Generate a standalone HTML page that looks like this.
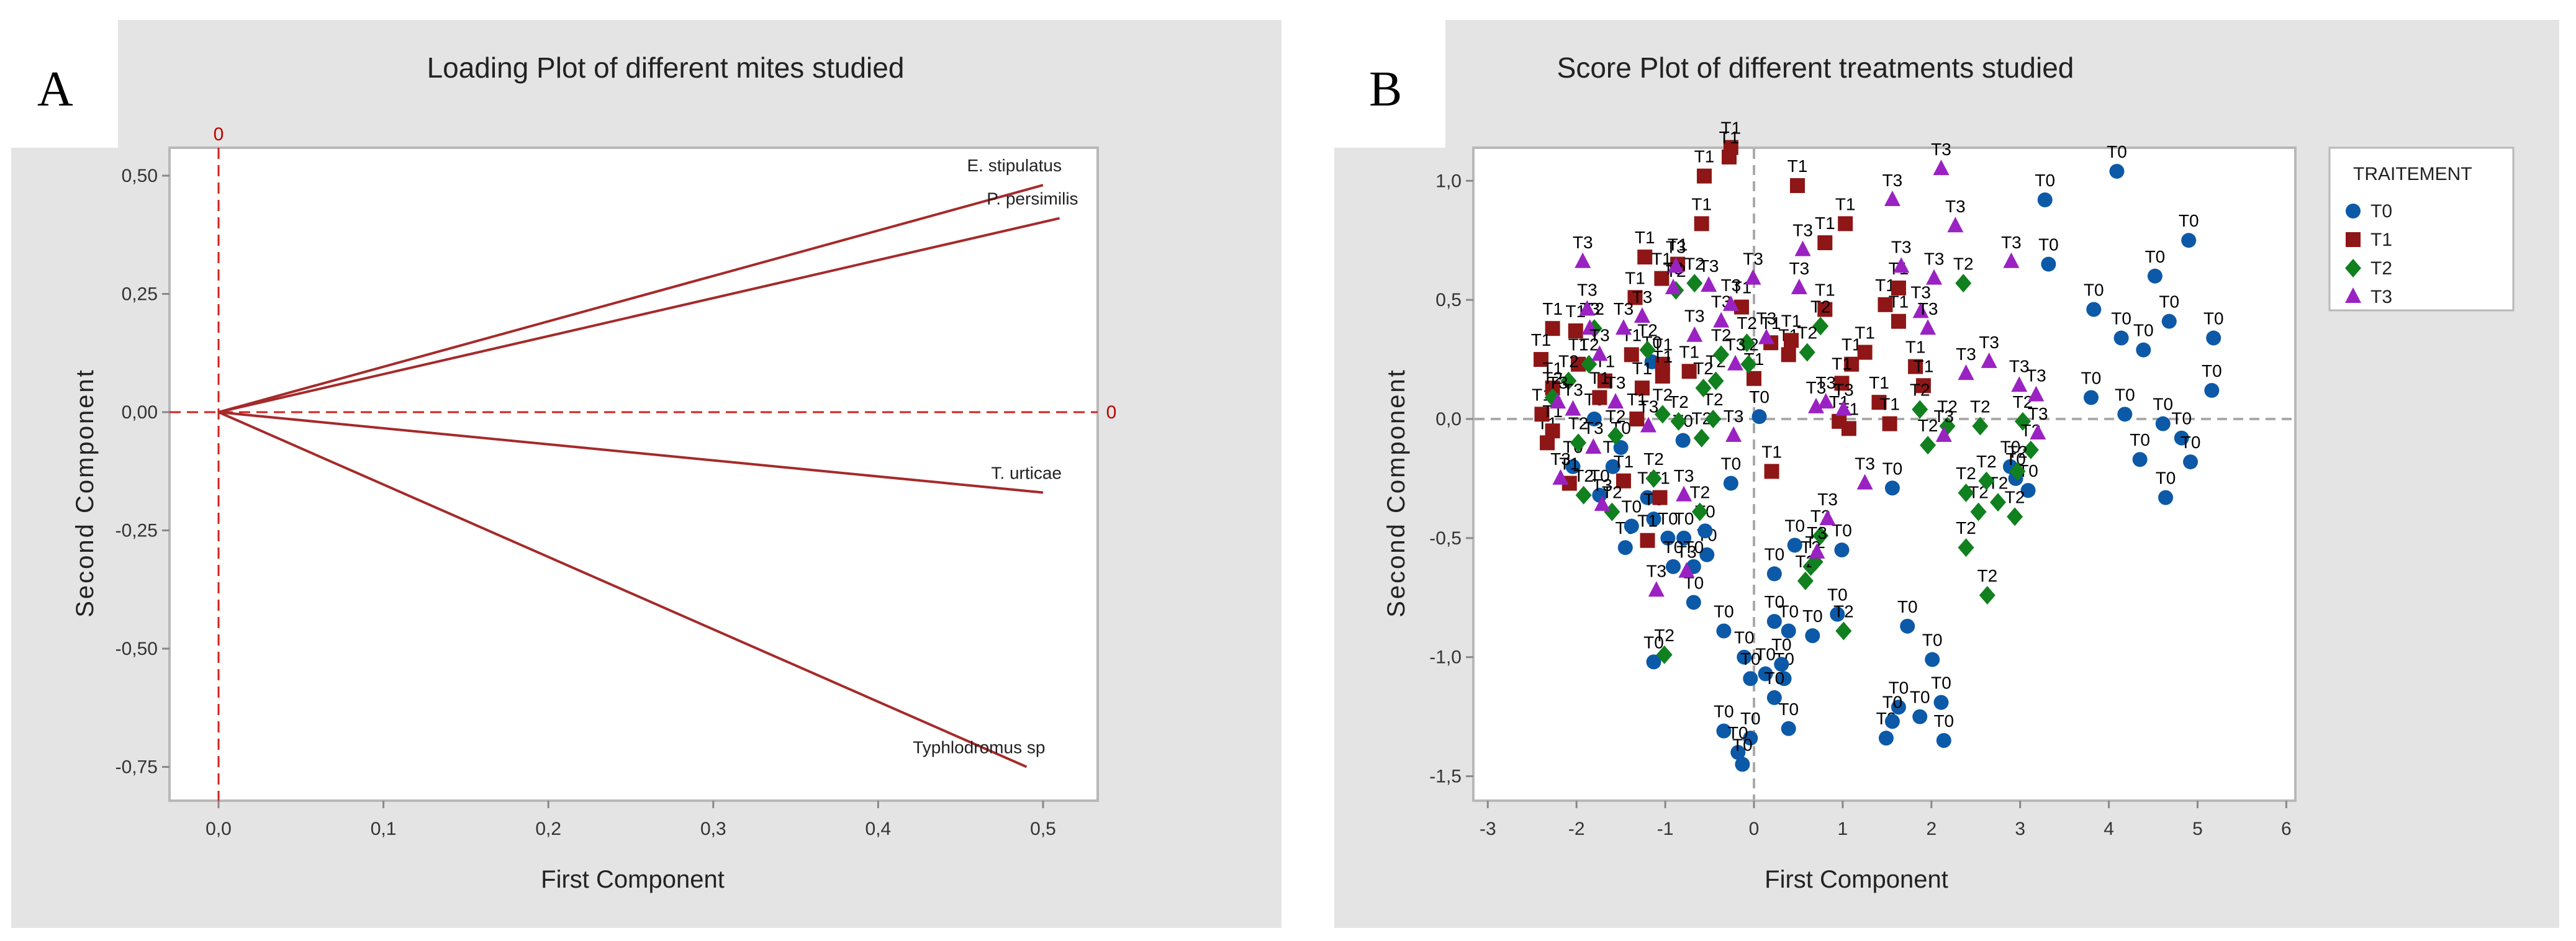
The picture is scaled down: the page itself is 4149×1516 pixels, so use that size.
<!DOCTYPE html>
<html><head><meta charset="utf-8"><style>
html,body{margin:0;padding:0;background:#fff;}
svg{display:block;font-family:"Liberation Sans",sans-serif;}
</style></head><body>
<svg id="fig" width="4149" height="1516" viewBox="0 0 4149 1516" xmlns="http://www.w3.org/2000/svg">
<rect x="0" y="0" width="4149" height="1516" fill="#fff"/>
<g id="panelA">
<rect x="18" y="32" width="2046" height="1463" fill="#e4e4e4"/>
<rect x="18" y="32" width="172" height="206" fill="#fff"/>
<text x="60" y="170" font-family="Liberation Serif,serif" font-size="80">A</text>
<text x="1072" y="125" font-size="46" text-anchor="middle" fill="#222">Loading Plot of different mites studied</text>
<rect x="273" y="238" width="1495" height="1052" fill="#fff" stroke="#b8b8b8" stroke-width="4"/>
<text x="1019" y="1430" font-size="40" text-anchor="middle" fill="#222">First Component</text>
<text transform="translate(150,794) rotate(-90)" font-size="40" text-anchor="middle" fill="#222" letter-spacing="3">Second Component</text>
<g id="axA"></g><g id="linesA"></g>
</g>
<g id="panelB">
<rect x="2149" y="32" width="1973" height="1463" fill="#e4e4e4"/>
<rect x="2149" y="32" width="179" height="206" fill="#fff"/>
<text x="2205" y="170" font-family="Liberation Serif,serif" font-size="80">B</text>
<text x="2924" y="125" font-size="46" text-anchor="middle" fill="#222">Score Plot of different treatments studied</text>
<rect x="2373" y="238" width="1324" height="1052" fill="#fff" stroke="#b8b8b8" stroke-width="4"/>
<text x="2990" y="1430" font-size="40" text-anchor="middle" fill="#222">First Component</text>
<text transform="translate(2262,794) rotate(-90)" font-size="40" text-anchor="middle" fill="#222" letter-spacing="3">Second Component</text>
<g id="axB"></g><g id="pts"></g>
<rect x="3752" y="238" width="296" height="262" fill="#fff" stroke="#b8b8b8" stroke-width="3"/>
<text x="3790" y="290" font-size="30" fill="#222">TRAITEMENT</text>
<g id="leg"></g>
</g>
</svg>
<script>
// Panel A data
const loadNames = ["E. stipulatus","P. persimilis","T. urticae","Typhlodromus sp"];
const loadPC1 = [0.50, 0.51, 0.50, 0.49];
const loadPC2 = [0.48, 0.41, -0.17, -0.75];
const aXTicks = [0,0.1,0.2,0.3,0.4,0.5];
const aXTickLabels = ["0,0","0,1","0,2","0,3","0,4","0,5"];
const aYTicks = [0.5,0.25,0,-0.25,-0.5,-0.75];
const aYTickLabels = ["0,50","0,25","0,00","-0,25","-0,50","-0,75"];
// Panel B data
const groups = ["T0","T1","T2","T3"];
const t0x=[4.09,3.28,4.90,3.32,4.52,3.83,4.68,4.14,5.18,4.39,5.16,3.80,4.18,4.61,4.82,4.35,4.92,4.64,0.06,-0.80,-0.26,1.56,3.09,2.89,2.95,-1.45,-1.20,-1.13,-0.97,-0.79,-0.53,-0.91,-0.68,-0.55,-0.68,0.46,0.99,0.23,-0.34,0.23,0.39,0.66,0.94,-0.11,-0.04,0.13,0.34,0.23,0.31,1.73,2.01,-0.34,-0.04,-0.18,-0.13,0.39,1.49,1.63,1.56,1.87,2.11,2.14,-1.13,-1.74,-1.59,-2.04,-1.80,-1.50,-1.15,-1.38];
const t0y=[1.04,0.92,0.75,0.65,0.60,0.46,0.41,0.34,0.34,0.29,0.12,0.09,0.02,-0.02,-0.08,-0.17,-0.18,-0.33,0.01,-0.09,-0.27,-0.29,-0.30,-0.20,-0.25,-0.54,-0.33,-0.42,-0.50,-0.50,-0.57,-0.62,-0.62,-0.47,-0.77,-0.53,-0.55,-0.65,-0.89,-0.85,-0.89,-0.91,-0.82,-1.00,-1.09,-1.07,-1.09,-1.17,-1.03,-0.87,-1.01,-1.31,-1.34,-1.40,-1.45,-1.30,-1.34,-1.21,-1.27,-1.25,-1.19,-1.35,-1.02,-0.32,-0.20,-0.20,0.00,-0.12,0.24,-0.45];
const t1x=[-0.26,-0.28,-0.56,0.49,-0.59,1.03,0.80,-1.23,-0.86,-1.04,-1.34,0.80,1.48,1.63,1.63,-2.27,-2.01,-2.40,-1.38,-1.03,-0.73,0.39,0.42,0.19,0.00,1.10,1.25,1.82,1.91,1.41,1.53,0.96,1.07,0.20,-1.47,-2.08,-1.20,-1.06,-2.33,-2.39,-2.27,-1.68,-1.26,-1.74,-1.32,-2.27,-1.98,0.99,-0.14,-1.03];
const t1y=[1.14,1.10,1.02,0.98,0.82,0.82,0.74,0.68,0.65,0.59,0.51,0.46,0.48,0.41,0.55,0.38,0.37,0.25,0.27,0.23,0.20,0.27,0.33,0.32,0.17,0.23,0.28,0.22,0.14,0.07,-0.02,-0.01,-0.04,-0.22,-0.26,-0.27,-0.51,-0.33,-0.10,0.02,0.13,0.16,0.13,0.09,0.00,-0.05,0.23,0.15,0.47,0.18];
const t2x=[2.36,0.75,0.60,1.87,2.55,1.96,3.03,3.12,2.97,2.53,2.75,2.94,2.39,2.63,2.39,2.62,1.01,0.64,0.58,0.69,-1.01,-0.59,-0.46,-0.85,-1.03,-1.92,-1.60,-1.13,-0.61,-1.56,-1.98,-2.27,-2.09,-1.86,-1.20,-0.67,-0.88,-0.06,-0.43,-0.37,-0.57,-0.08,0.75,2.18,-1.80];
const t2y=[0.57,0.39,0.28,0.04,-0.03,-0.11,-0.01,-0.13,-0.22,-0.39,-0.35,-0.41,-0.54,-0.74,-0.31,-0.26,-0.89,-0.62,-0.68,-0.60,-0.99,-0.08,0.00,-0.01,0.02,-0.32,-0.39,-0.25,-0.39,-0.07,-0.10,0.09,0.16,0.23,0.29,0.57,0.54,0.23,0.16,0.27,0.13,0.32,-0.49,-0.03,0.38];
const t3x=[2.11,1.56,2.27,2.90,0.55,0.51,-0.01,2.03,1.66,1.88,1.96,2.39,2.65,2.99,3.18,3.20,2.14,0.70,0.81,1.01,1.25,0.83,0.71,-0.23,-0.76,-1.10,-1.71,-2.18,-1.81,-1.19,-1.93,-1.85,-1.88,-1.47,-1.26,-0.91,-0.51,-0.67,-0.37,-0.26,0.14,-0.21,-2.21,-2.04,-0.79,-0.88,-1.74,-1.56];
const t3y=[1.05,0.92,0.81,0.66,0.71,0.55,0.59,0.59,0.64,0.45,0.38,0.19,0.24,0.14,0.10,-0.06,-0.07,0.05,0.07,0.04,-0.27,-0.42,-0.56,-0.07,-0.64,-0.72,-0.36,-0.25,-0.12,-0.03,0.66,0.38,0.46,0.38,0.43,0.55,0.56,0.35,0.41,0.48,0.34,0.23,0.07,0.04,-0.32,0.64,0.27,0.07];
const bXTicks=[-3,-2,-1,0,1,2,3,4,5,6];
const bXTickLabels=["-3","-2","-1","0","1","2","3","4","5","6"];
const bYTicks=[1.0,0.5,0,-0.5,-1.0,-1.5];
const bYTickLabels=["1,0","0,5","0,0","-0,5","-1,0","-1,5"];

const NS="http://www.w3.org/2000/svg";
function mk(parent,tag,attrs){const e=document.createElementNS(NS,tag);for(const k in attrs)e.setAttribute(k,attrs[k]);parent.appendChild(e);return e;}
// Panel A scales
const axA=(v)=>352+v*2656;
const ayA=(v)=>664-v*762;
const gA=document.getElementById('axA');
aXTicks.forEach((t,i)=>{
  const l=mk(gA,'line',{x1:axA(t),x2:axA(t),y1:1290,y2:1302,stroke:'#888','stroke-width':3});
  
  
  const tx=mk(gA,'text',{x:axA(t),y:1345,'font-size':30,'text-anchor':'middle',fill:'#333'});
  tx.textContent=aXTickLabels[i];
  
  
});
aYTicks.forEach((t,i)=>{
  const l=mk(gA,'line',{x1:261,x2:273,y1:ayA(t),y2:ayA(t),stroke:'#888','stroke-width':3});
  
  
  const tx=mk(gA,'text',{x:254,y:ayA(t)+10,'font-size':30,'text-anchor':'end',fill:'#333'});
  tx.textContent=aYTickLabels[i];
  
  
});
const r1=mk(gA,'line',{x1:axA(0),x2:axA(0),y1:238,y2:1290,stroke:'#d42020','stroke-width':3,'stroke-dasharray':'18,10'});


const r2=mk(gA,'line',{x1:273,x2:1768,y1:ayA(0),y2:ayA(0),stroke:'#d42020','stroke-width':3,'stroke-dasharray':'18,10'});


const z1=mk(gA,'text',{x:axA(0),y:226,'font-size':30,'text-anchor':'middle',fill:'#c00000'});z1.textContent='0';


const z2=mk(gA,'text',{x:1790,y:ayA(0)+10,'font-size':30,'text-anchor':'middle',fill:'#c00000'});z2.textContent='0';


const gL=document.getElementById('linesA');
loadNames.forEach((n,i)=>{
  const l=mk(gL,'line',{x1:axA(0),y1:ayA(0),x2:axA(loadPC1[i]),y2:ayA(loadPC2[i]),stroke:'#a52a2a','stroke-width':4});
  
  
  const t=mk(gL,'text',{x:axA(loadPC1[i])+30,y:ayA(loadPC2[i])-22,'font-size':28,'text-anchor':'end',fill:'#222'});
  t.textContent=n;
  
  
});
// Panel B scales
const axB=(v)=>2825+v*142.9;
const ayB=(v)=>675-v*383.7;
const gB=document.getElementById('axB');
bXTicks.forEach((t,i)=>{
  const l=mk(gB,'line',{x1:axB(t),x2:axB(t),y1:1290,y2:1302,stroke:'#888','stroke-width':3});
  
  
  const tx=mk(gB,'text',{x:axB(t),y:1345,'font-size':30,'text-anchor':'middle',fill:'#333'});
  tx.textContent=bXTickLabels[i];
  
  
});
bYTicks.forEach((t,i)=>{
  const l=mk(gB,'line',{x1:2361,x2:2373,y1:ayB(t),y2:ayB(t),stroke:'#888','stroke-width':3});
  
  
  const tx=mk(gB,'text',{x:2354,y:ayB(t)+10,'font-size':30,'text-anchor':'end',fill:'#333'});
  tx.textContent=bYTickLabels[i];
  
  
});
const d1=mk(gB,'line',{x1:axB(0),x2:axB(0),y1:240,y2:1288,stroke:'#aaa','stroke-width':4,'stroke-dasharray':'16,10'});


const d2=mk(gB,'line',{x1:2375,x2:3695,y1:ayB(0),y2:ayB(0),stroke:'#aaa','stroke-width':4,'stroke-dasharray':'16,10'});


const colors=["#0c59a8","#8e1616","#11801e","#9a22c2"];
function marker(g,k,x,y){
  let e;
  if(k===0) e=mk(g,'circle',{cx:x,cy:y,r:12,fill:colors[0]});
  else if(k===1) e=mk(g,'rect',{x:x-12,y:y-12,width:24,height:24,fill:colors[1]});
  else if(k===2) e=mk(g,'polygon',{points:`${x},${y-15} ${x+13},${y} ${x},${y+15} ${x-13},${y}`,fill:colors[2]});
  else e=mk(g,'polygon',{points:`${x},${y-15} ${x+13},${y+10} ${x-13},${y+10}`,fill:colors[3]});
  return e;
}
const gP=document.getElementById('pts');
const XS=[t0x,t1x,t2x,t3x], YS=[t0y,t1y,t2y,t3y];
XS.forEach((xs,k)=>{
  xs.forEach((v,i)=>{
    const px=axB(v), py=ayB(YS[k][i]);
    const m=marker(gP,k,px,py);
    
    
    const t=mk(gP,'text',{x:px,y:py-22,'font-size':28,'text-anchor':'middle',fill:'#000'});
    t.textContent=groups[k];
    
    
  });
});
const gLg=document.getElementById('leg');
groups.forEach((g,k)=>{
  const y=340+k*46;
  const m=marker(gLg,k,3790,y);
  
  
  const t=mk(gLg,'text',{x:3818,y:y+10,'font-size':30,fill:'#222'});
  t.textContent=g;
  
  
});
</script>
</body></html>
